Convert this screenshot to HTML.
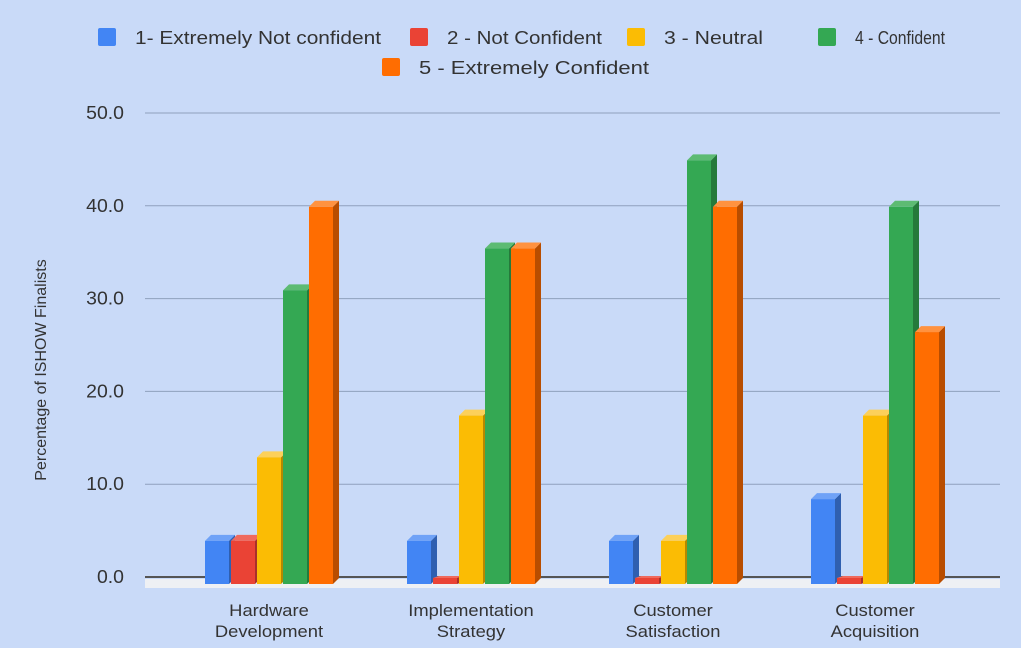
<!DOCTYPE html>
<html><head><meta charset="utf-8"><style>
body{margin:0;background:#c9daf8;}
svg{display:block;font-family:"Liberation Sans",Arial,sans-serif;}
</style></head><body>
<svg id="c" width="1021" height="648">
<rect width="1021" height="648" fill="#c9daf8"/>
</svg>
<script>
const categories=[["Hardware","Development"],["Implementation","Strategy"],["Customer","Satisfaction"],["Customer","Acquisition"]];
const seriesNames=["1- Extremely Not confident","2 - Not Confident","3 - Neutral","4 - Confident","5 - Extremely Confident"];
const s1=[4,4,4,8.5];
const s2=[4,0,0,0];
const s3=[13,17.5,4,17.5];
const s4=[31,35.5,45,40];
const s5=[40,35.5,40,26.5];
const yTicks=[0,10,20,30,40,50];
const series=[s1,s2,s3,s4,s5];
const colors=["#4285f4","#ea4335","#fbbc04","#34a853","#ff6d01"];
const dark=["#2f5fb0","#a8302a","#b58800","#257a3b","#b84d00"];
const light=["#6fa2f7","#ef6a5e","#fcd05a","#5dbb73","#ff9240"];
const NS="http://www.w3.org/2000/svg";
const svg=document.getElementById('c');
function el(t,a,p){const e=document.createElementNS(NS,t);for(const k in a)e.setAttribute(k,a[k]);(p||svg).appendChild(e);return e;}
function stretch(t,f){const w=t.getComputedTextLength();t.setAttribute('textLength',w*f);t.setAttribute('lengthAdjust','spacingAndGlyphs');}
const y0=577,yTop=113,vMax=50;
function y(v){return y0-(v/vMax)*(y0-yTop);}
const step=202, barStep=26, bw=24, dx=6, dy=6;
function gx(i,j){return 205+i*step+j*barStep;}
yTicks.forEach(t=>{
 const l=el('line',{x1:145,x2:1000,y1:y(t),y2:y(t),stroke:t===0?'#555':'#8fa0bd','stroke-width':t===0?2:1});
 
 
 const tx=el('text',{x:124,y:y(t)+6,'text-anchor':'end','font-size':18,fill:'#333'});
 tx.textContent=t.toFixed(1);
 
 
 stretch(tx,1.08);
});
const floor=el('rect',{x:145,y:579,width:855,height:9,fill:'#eef0f4'});


categories.forEach((c,i)=>{
 series.forEach((s,j)=>{
  const x=gx(i,j), base=584;
  let t=y(s[i])+1;
  if(base-t<2)t=base-2;
  const h=base-t;
  const d=s[i]>0?dy:2;
  const g=el('g',{});
  
  
  el('polygon',{points:`${x+bw},${t} ${x+bw+dx},${t-d} ${x+bw+dx},${base-d} ${x+bw},${base}`,fill:dark[j]},g);
  el('polygon',{points:`${x},${t} ${x+dx},${t-d} ${x+bw+dx},${t-d} ${x+bw},${t}`,fill:light[j]},g);
  el('rect',{x:x,y:t,width:bw,height:h,fill:colors[j]},g);
 });
 c.forEach((line,k)=>{
  const tx=el('text',{x:gx(i,2)+12,y:616+k*21,'text-anchor':'middle','font-size':17,fill:'#333'});
  tx.textContent=line;
  
  
  stretch(tx,1.08);
 });
});
const yt=el('text',{x:0,y:0,transform:'translate(46,370) rotate(-90)','text-anchor':'middle','font-size':16,fill:'#333'});
yt.textContent='Percentage of ISHOW Finalists';


const legPos=[[98,28],[410,28],[627,28],[818,28],[382,58]];
const legW=[246,155,99,90,230];
seriesNames.forEach((n,j)=>{
 const g=el('g',{});
 
 
 el('rect',{x:legPos[j][0],y:legPos[j][1],width:18,height:18,fill:colors[j],rx:2},g);
 const t=el('text',{x:legPos[j][0]+37,y:legPos[j][1]+16,'font-size':18,fill:'#333',textLength:legW[j],lengthAdjust:'spacingAndGlyphs'},g);
 t.textContent=n;
});
</script>
</body></html>
